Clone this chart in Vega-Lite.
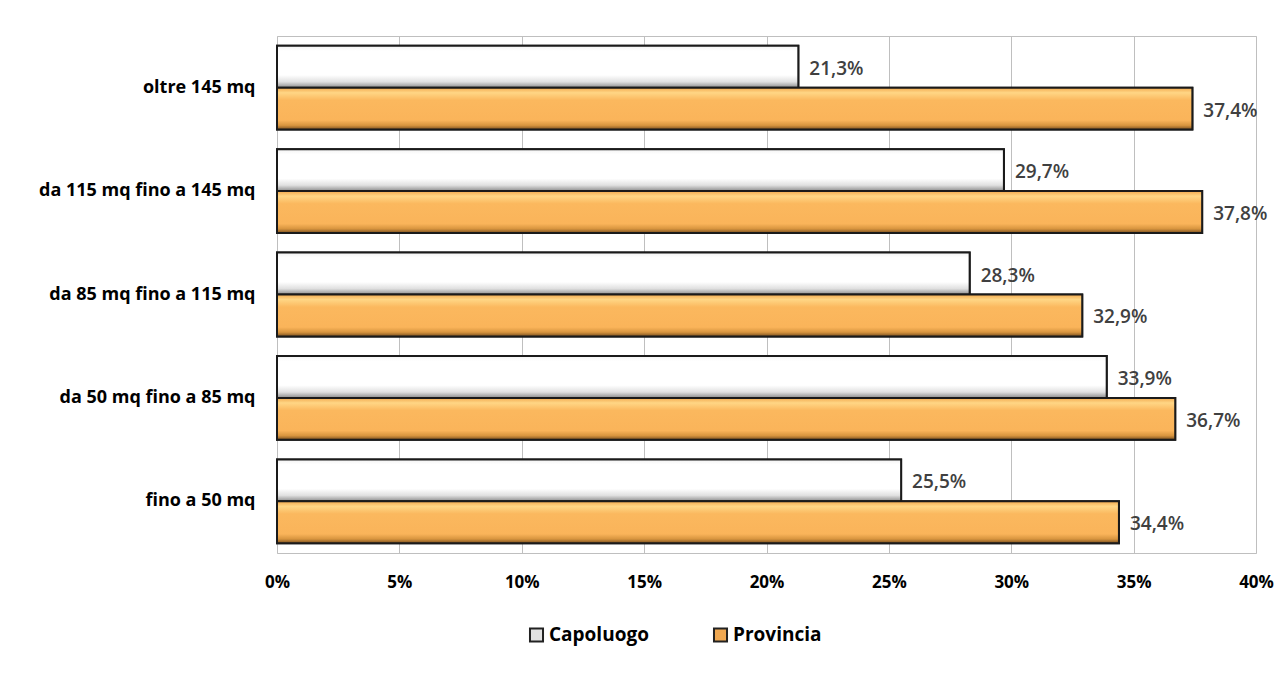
{
  "$schema": "https://vega.github.io/schema/vega-lite/v6.json",
  "width": 979,
  "height": 517,
  "autosize": {"type": "none"},
  "padding": {"left": 277, "top": 36, "right": 24, "bottom": 120},
  "background": "#FFFFFF",
  "config": {
    "locale": {"number": {"decimal": ",", "thousands": ".", "grouping": [3], "currency": ["", " €"]}},
    "view": {"stroke": "#BFBFBF", "strokeWidth": 1},
    "font": "Open Sans"
  },
  "data": {
    "values": [
      {"cat": "oltre 145 mq", "serie": "Capoluogo", "val": 0.213},
      {"cat": "oltre 145 mq", "serie": "Provincia", "val": 0.374},
      {"cat": "da 115 mq fino a 145 mq", "serie": "Capoluogo", "val": 0.297},
      {"cat": "da 115 mq fino a 145 mq", "serie": "Provincia", "val": 0.378},
      {"cat": "da 85 mq fino a 115 mq", "serie": "Capoluogo", "val": 0.283},
      {"cat": "da 85 mq fino a 115 mq", "serie": "Provincia", "val": 0.329},
      {"cat": "da 50 mq fino a 85 mq", "serie": "Capoluogo", "val": 0.339},
      {"cat": "da 50 mq fino a 85 mq", "serie": "Provincia", "val": 0.367},
      {"cat": "fino a 50 mq", "serie": "Capoluogo", "val": 0.255},
      {"cat": "fino a 50 mq", "serie": "Provincia", "val": 0.344}
    ]
  },
  "encoding": {
    "y": {
      "field": "cat",
      "type": "nominal",
      "sort": ["oltre 145 mq", "da 115 mq fino a 145 mq", "da 85 mq fino a 115 mq", "da 50 mq fino a 85 mq", "fino a 50 mq"],
      "scale": {"paddingInner": 0.19, "paddingOuter": 0.095},
      "axis": {
        "title": null,
        "ticks": false,
        "domain": false,
        "labelPadding": 22,
        "labelFontSize": 18,
        "labelFontWeight": "bold",
        "labelColor": "#000000",
        "labelFont": "Open Sans",
        "labelLimit": 300
      }
    },
    "yOffset": {"field": "serie", "type": "nominal", "sort": ["Capoluogo", "Provincia"]},
    "x": {
      "field": "val",
      "type": "quantitative",
      "scale": {"domain": [0, 0.4], "nice": false},
      "axis": {
        "title": null,
        "format": ".0%",
        "values": [0, 0.05, 0.1, 0.15, 0.2, 0.25, 0.3, 0.35, 0.4],
        "ticks": false,
        "domain": false,
        "grid": true,
        "gridColor": "#BFBFBF",
        "gridWidth": 1,
        "labelPadding": 21,
        "labelFontSize": 17,
        "labelFontWeight": "bold",
        "labelColor": "#000000",
        "labelFont": "Open Sans",
        "labelFlush": false
      }
    }
  },
  "layer": [
    {
      "mark": {"type": "bar", "stroke": "#1A1A1A", "strokeWidth": 2},
      "encoding": {
        "color": {
          "field": "serie",
          "type": "nominal",
          "scale": {"domain": ["Capoluogo", "Provincia"], "range": ["#E2E2E2", "#EFA852"]},
          "legend": {
            "title": null,
            "orient": "none",
            "direction": "horizontal",
            "legendX": 250,
            "legendY": 589,
            "columnPadding": 60,
            "labelFontSize": 19,
            "labelFontWeight": "bold",
            "labelColor": "#000000",
            "labelFont": "Open Sans",
            "symbolType": "square",
            "symbolSize": 170,
            "symbolStrokeColor": "#222222",
            "symbolStrokeWidth": 2,
            "labelOffset": 3
          }
        }
      }
    },
    {
      "mark": {"type": "bar", "stroke": "#1A1A1A", "strokeWidth": 2},
      "encoding": {
        "fill": {
          "condition": {
            "test": "datum.serie === 'Capoluogo'",
            "value": {
              "gradient": "linear", "x1": 0, "y1": 0, "x2": 0, "y2": 1,
              "stops": [
                {"offset": 0, "color": "#F2F2F2"},
                {"offset": 0.12, "color": "#FFFFFF"},
                {"offset": 0.7, "color": "#FFFFFF"},
                {"offset": 0.86, "color": "#E0E0E0"},
                {"offset": 1, "color": "#8C8C8C"}
              ]
            }
          },
          "value": {
            "gradient": "linear", "x1": 0, "y1": 0, "x2": 0, "y2": 1,
            "stops": [
              {"offset": 0, "color": "#F2A94E"},
              {"offset": 0.12, "color": "#FFD685"},
              {"offset": 0.3, "color": "#FBB85E"},
              {"offset": 0.78, "color": "#FAB45A"},
              {"offset": 0.9, "color": "#D8953F"},
              {"offset": 1, "color": "#7A5020"}
            ]
          }
        }
      }
    },
    {
      "mark": {"type": "text", "align": "left", "baseline": "middle", "dx": 11, "dy": 2, "fontSize": 19, "fontWeight": 600, "color": "#404040", "font": "Open Sans"},
      "encoding": {
        "text": {"field": "val", "type": "quantitative", "format": ".1%"}
      }
    }
  ]
}
